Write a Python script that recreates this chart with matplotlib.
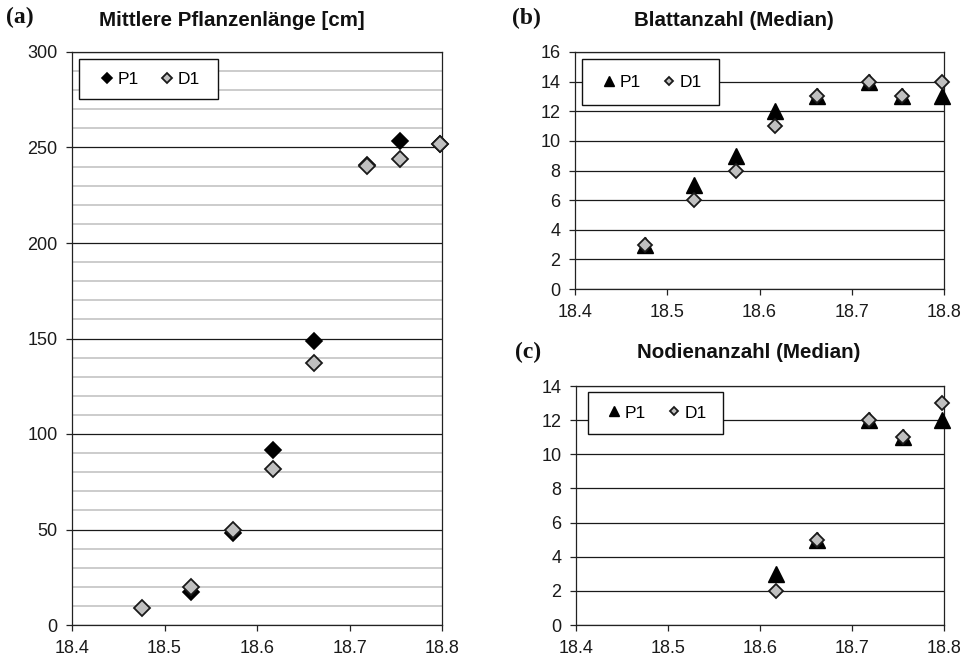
import numpy as np
import matplotlib
matplotlib.use("Agg")
import matplotlib.pyplot as plt
from matplotlib.patches import Rectangle
from matplotlib.ticker import MultipleLocator, FormatStrFormatter

# x-Werte (gemeinsam fuer alle Panels)
x_vals = [18.476, 18.529, 18.574, 18.617, 18.662, 18.719, 18.755, 18.798]

# (a) Mittlere Pflanzenlaenge [cm]
laenge_p1 = [np.nan, 17.5, 48, 91.5, 148.5, 241, 253.5, 252]
laenge_d1 = [9, 20, 50, 81.5, 137, 240.5, 244, 252]

# (b) Blattanzahl (Median)
blatt_p1 = [3, 7, 9, 12, 13, 14, 13, 13]
blatt_d1 = [3, 6, 8, 11, 13, 14, 13, 14]

# (c) Nodienanzahl (Median)
nodien_p1 = [np.nan, np.nan, np.nan, 3, 5, 12, 11, 12]
nodien_d1 = [np.nan, np.nan, np.nan, 2, 5, 12, 11, 13]

x_ticks = [18.4, 18.5, 18.6, 18.7, 18.8]

plt.rcParams['font.family'] = ['Liberation Sans', 'DejaVu Sans']

W, H = 965, 656
fig = plt.figure(figsize=(W / 100, H / 100), dpi=100)


def px_axes(l, t, r, b):
    ax = fig.add_axes([l / W, 1 - b / H, (r - l) / W, (b - t) / H])
    ax._px = (l, t, r, b)
    return ax


def style_axes(ax, ymax, ystep, minor=None):
    ax.set_xlim(18.4, 18.8)
    ax.set_ylim(0, ymax)
    ax.set_xticks(x_ticks)
    ax.xaxis.set_major_formatter(FormatStrFormatter('%.1f'))
    ax.yaxis.set_major_locator(MultipleLocator(ystep))
    if minor:
        ax.yaxis.set_minor_locator(MultipleLocator(minor))
        ax.grid(True, axis='y', which='minor', color='#c8c8c8', lw=1.3, zorder=0)
        ax.tick_params(axis='y', which='minor', length=0)
    ax.grid(True, axis='y', which='major', color='#1a1a1a', lw=0.9, zorder=1)
    ax.set_axisbelow(True)
    ax.tick_params(direction='out', length=4.5, width=0.9, color='#222222',
                   labelsize=13, labelcolor='#1a1a1a', pad=6)
    for s in ax.spines.values():
        s.set_color('#222222')
        s.set_linewidth(0.9)


def add_legend(ax, box):
    # box in Pixeln (links, oben, rechts, unten) -> Achsenkoordinaten
    l, t, r, b = ax._px
    bl, bt, br, bb = box
    x0 = (bl - l) / (r - l)
    x1 = (br - l) / (r - l)
    y0 = 1 - (bb - t) / (b - t)
    y1 = 1 - (bt - t) / (b - t)
    ax.add_patch(Rectangle((x0, y0), x1 - x0, y1 - y0, transform=ax.transAxes,
                           facecolor='white', edgecolor='#111111', lw=1.0,
                           zorder=4.9, clip_on=False))
    ax.legend(loc='center', bbox_to_anchor=((x0 + x1) / 2, (y0 + y1) / 2),
              ncol=2, frameon=False, fontsize=12.5, markerscale=0.6,
              handlelength=1.1, handletextpad=0.05, columnspacing=1.1,
              borderpad=0, borderaxespad=0)


# --- (a) ---
ax_a = px_axes(72, 52, 442, 625)
ax_a.plot(x_vals, laenge_p1, ls='none', marker='D', ms=7.8, mfc='black',
          mec='black', mew=1.2, label='P1', clip_on=False, zorder=3)
ax_a.plot(x_vals, laenge_d1, ls='none', marker='D', ms=7.8, mfc='#c0c0c0',
          mec='#1a1a1a', mew=1.3, label='D1', clip_on=False, zorder=4)
style_axes(ax_a, 300, 50, minor=10)
add_legend(ax_a, (79, 59, 218, 99))

# --- (b) ---
ax_b = px_axes(575, 52, 944, 289)
ax_b.plot(x_vals, blatt_p1, ls='none', marker='^', ms=11, mfc='black',
          mec='black', mew=1.0, label='P1', clip_on=False, zorder=3)
ax_b.plot(x_vals, blatt_d1, ls='none', marker='D', ms=6.8, mfc='#c0c0c0',
          mec='#1a1a1a', mew=1.3, label='D1', clip_on=False, zorder=4)
style_axes(ax_b, 16, 2)
add_legend(ax_b, (582, 59, 719, 105))

# --- (c) ---
ax_c = px_axes(576, 386, 944, 625)
ax_c.plot(x_vals, nodien_p1, ls='none', marker='^', ms=11, mfc='black',
          mec='black', mew=1.0, label='P1', clip_on=False, zorder=3)
ax_c.plot(x_vals, nodien_d1, ls='none', marker='D', ms=6.8, mfc='#c0c0c0',
          mec='#1a1a1a', mew=1.3, label='D1', clip_on=False, zorder=4)
style_axes(ax_c, 14, 2)
add_legend(ax_c, (588, 392, 723, 434))

# Titel und Panel-Buchstaben
title_kw = dict(fontsize=14.8, fontweight='bold', ha='center', va='center',
                color='#111111')
fig.text(232 / W, 1 - 20 / H, 'Mittlere Pflanzenlänge [cm]', **title_kw)
fig.text(734 / W, 1 - 20 / H, 'Blattanzahl (Median)', **title_kw)
fig.text(749 / W, 1 - 352 / H, 'Nodienanzahl (Median)', **title_kw)

lab_kw = dict(fontsize=17, fontweight='bold', ha='left', va='center',
              family='Liberation Serif', color='#111111')
fig.text(6 / W, 1 - 17 / H, '(a)', **lab_kw)
fig.text(512 / W, 1 - 18 / H, '(b)', **lab_kw)
fig.text(515 / W, 1 - 352 / H, '(c)', **lab_kw)

fig.savefig('out.png', dpi=100)
